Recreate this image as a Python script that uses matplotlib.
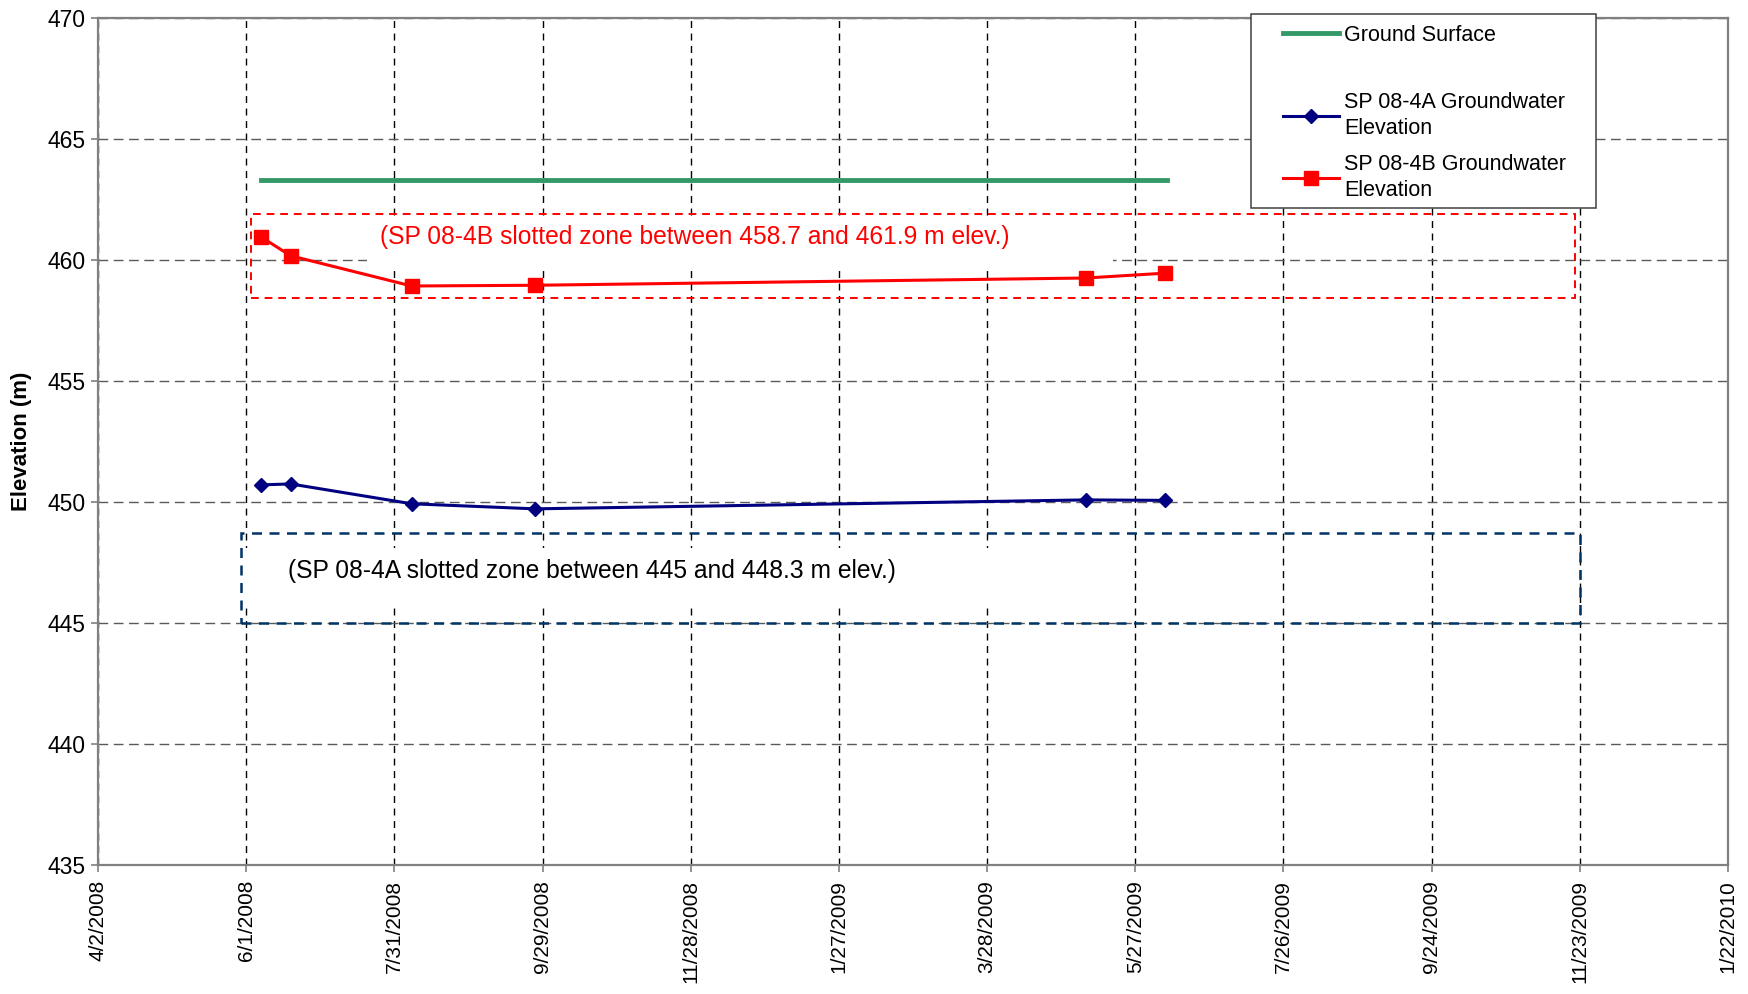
from datetime import date

import matplotlib
matplotlib.use("Agg")
import matplotlib.pyplot as plt
import matplotlib.dates as mdates
from matplotlib.lines import Line2D
from matplotlib.patches import Rectangle
from matplotlib.ticker import FixedLocator, FuncFormatter

plt.rcParams["font.family"] = ["Liberation Sans", "DejaVu Sans"]

# sampling dates (same for both piezometers)
sample_dates = [
    date(2008, 6, 7), date(2008, 6, 19), date(2008, 8, 7),
    date(2008, 9, 26), date(2009, 5, 7), date(2009, 6, 8),
]
sp_4a_elev = [450.70, 450.74, 449.92, 449.71, 450.08, 450.06]
sp_4b_elev = [460.95, 460.17, 458.92, 458.95, 459.25, 459.45]

ground_dates = [date(2008, 6, 7), date(2009, 6, 9)]
ground_elev = [463.3, 463.3]

# slotted zones as drawn: (start, end, bottom, top)
zone_4b = (date(2008, 6, 3), date(2009, 11, 21), 458.43, 461.88)
zone_4a = (date(2008, 5, 30), date(2009, 11, 23), 445.0, 448.7)
zone_4b_text = "(SP 08-4B slotted zone between 458.7 and 461.9 m elev.)"
zone_4a_text = "(SP 08-4A slotted zone between 445 and 448.3 m elev.)"

x_start = date(2008, 4, 2)
x_end = date(2010, 1, 22)
y_ticks = [435, 440, 445, 450, 455, 460, 465, 470]


def fmt_date(x, pos=None):
    d = mdates.num2date(x)
    return f"{d.month}/{d.day}/{d.year}"


def white_box(ax, d0, d1, y0, y1):
    x0 = mdates.date2num(d0)
    x1 = mdates.date2num(d1)
    ax.add_patch(Rectangle((x0, y0), x1 - x0, y1 - y0,
                           facecolor="white", edgecolor="none", zorder=1))


def zone_box(ax, zone, color, lw):
    d0, d1, y0, y1 = zone
    x0 = mdates.date2num(d0)
    x1 = mdates.date2num(d1)
    ax.add_patch(Rectangle((x0, y0), x1 - x0, y1 - y0, facecolor="none",
                           edgecolor=color, linestyle=(0, (4, 3)),
                           linewidth=lw, zorder=2))


def main() -> None:
    fig = plt.figure(figsize=(17.49, 9.94), dpi=100)
    ax = fig.add_axes([0.056, 0.130, 0.932, 0.852])

    ax.set_axisbelow(True)
    x0 = mdates.date2num(x_start)
    x1 = mdates.date2num(x_end)
    ax.set_xlim(x0, x1)
    ax.set_ylim(435, 470)

    ticks = [x0 + 60 * i for i in range(12)]
    ax.xaxis.set_major_locator(FixedLocator(ticks))
    ax.xaxis.set_major_formatter(FuncFormatter(fmt_date))
    ax.set_yticks(y_ticks)

    ax.xaxis.grid(True, color="black", linestyle=(0, (5, 4)), linewidth=1)
    ax.yaxis.grid(True, color="#5a5a5a", linestyle=(0, (7, 4)), linewidth=1)

    for sp in ax.spines.values():
        sp.set_color("#808080")
        sp.set_linewidth(1.6)
    ax.tick_params(axis="both", colors="#808080", length=5, width=1.2,
                   labelcolor="black", labelsize=15)
    ax.tick_params(axis="y", labelsize=16.5, pad=4)
    ax.tick_params(axis="x", labelrotation=90, pad=6)

    # white fills behind the text boxes
    white_box(ax, date(2008, 7, 20), date(2009, 5, 18), 459.72, 461.79)
    white_box(ax, date(2008, 5, 31), date(2009, 4, 26), 445.74, 448.10)

    zone_box(ax, zone_4b, "#ff0000", 1.4)
    zone_box(ax, zone_4a, "#003366", 1.8)

    ax.text(mdates.date2num(date(2008, 7, 25)), 460.96, zone_4b_text,
            color="#ff0000", fontsize=17.7, va="center", ha="left", zorder=3)
    ax.text(mdates.date2num(date(2008, 6, 18)), 447.13, zone_4a_text,
            color="black", fontsize=17.7, va="center", ha="left", zorder=3)

    gs_line, = ax.plot(ground_dates, ground_elev, color="#339966",
                       linewidth=3.5, zorder=3)
    a_line, = ax.plot(sample_dates, sp_4a_elev, color="#000080",
                      linewidth=2.2, marker="D", markersize=7.3, zorder=4)
    b_line, = ax.plot(sample_dates, sp_4b_elev, color="#ff0000",
                      linewidth=2.2, marker="s", markersize=10.5, zorder=4)

    ax.set_ylabel("Elevation (m)", fontsize=16, fontweight="bold")
    ax.yaxis.set_label_coords(-0.0405, 0.5)

    # legend frame drawn separately so the padding can match
    ax.add_patch(Rectangle((0.7153, 0.7907), 0.1973, 0.1952,
                           transform=fig.transFigure, facecolor="white",
                           edgecolor="#404040", linewidth=1.1,
                           clip_on=False, zorder=5))
    spacer = Line2D([], [], linestyle="none")
    leg = ax.legend(
        [gs_line, spacer, a_line, b_line],
        ["Ground Surface", " ",
         "SP 08-4A Groundwater\nElevation",
         "SP 08-4B Groundwater\nElevation"],
        loc="upper left", bbox_to_anchor=(1283 / 1749, 1 - 25 / 994),
        bbox_transform=fig.transFigure, frameon=False, fontsize=15.5,
        borderpad=0, borderaxespad=0, handlelength=2.6, handletextpad=0.25,
        labelspacing=0.7,
    )
    leg.set_zorder(6)
    for t in leg.get_texts():
        t.set_linespacing(1.3)
    leg.get_texts()[1].set_fontsize(4)

    fig.savefig("out.png", dpi=100)
    plt.close(fig)


if __name__ == "__main__":
    main()
